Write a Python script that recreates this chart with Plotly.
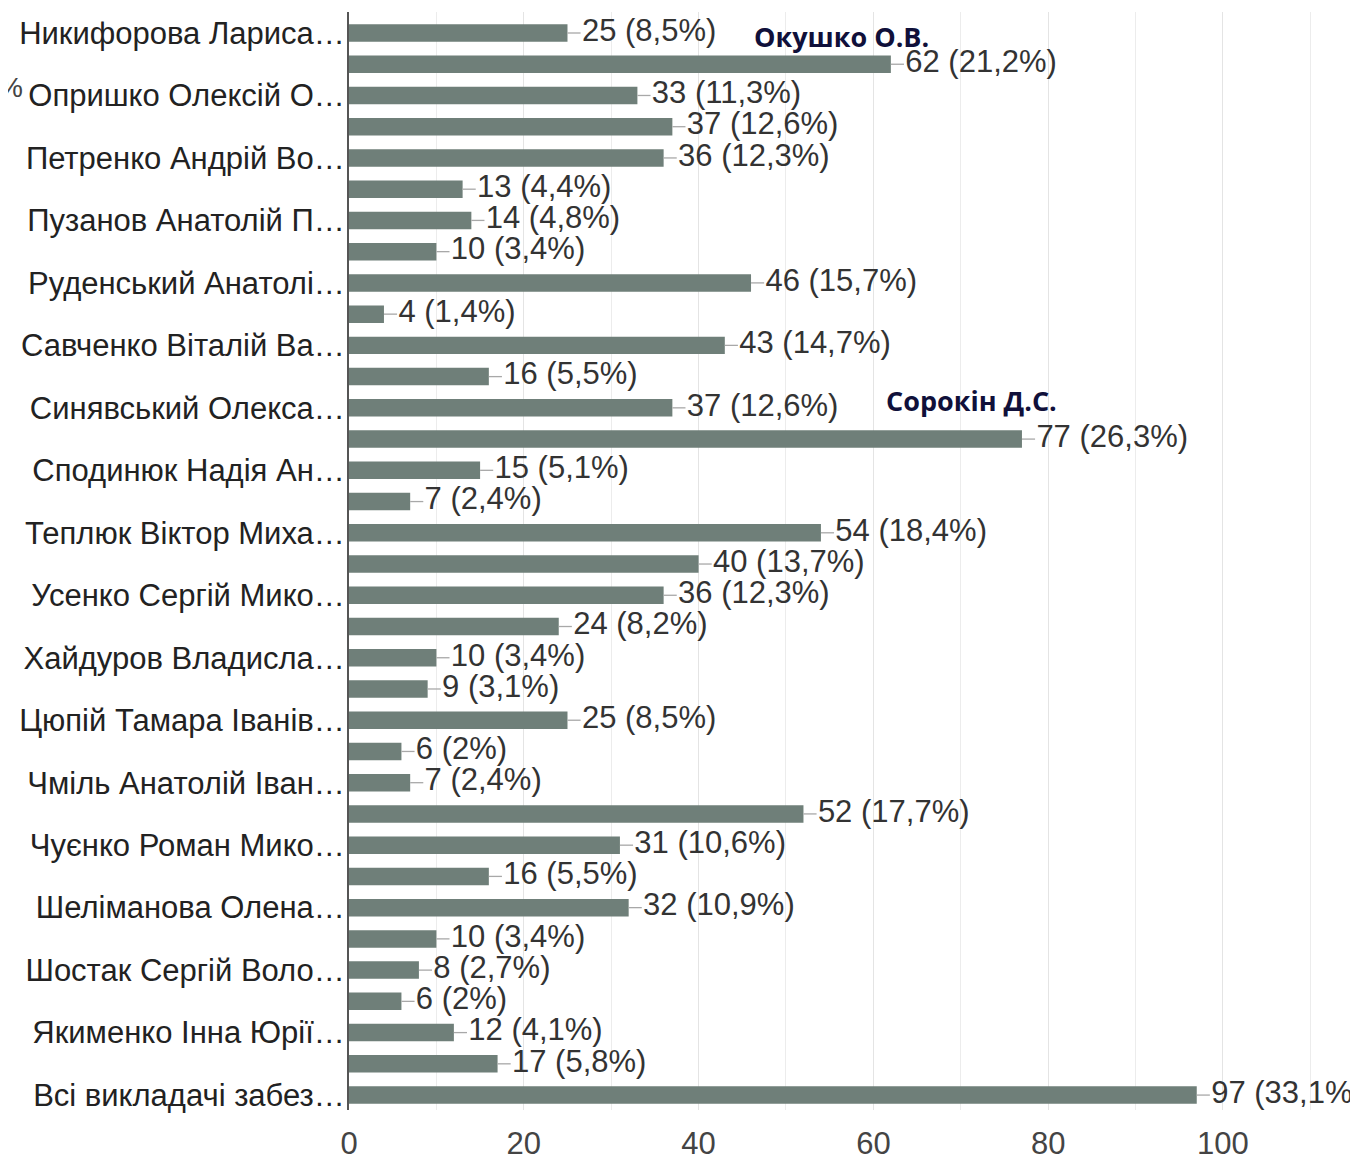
import plotly.graph_objects as go

# Підписи (тільки для кожного другого стовпчика, як на оригіналі)
names = ['', 'Никифорова Лариса…', '', 'Опришко Олексій О…', '', 'Петренко Андрій Во…', '',
         'Пузанов Анатолій П…', '', 'Руденський Анатолі…', '', 'Савченко Віталій Ва…', '',
         'Синявський Олекса…', '', 'Сподинюк Надія Ан…', '', 'Теплюк Віктор Миха…', '',
         'Усенко Сергій Мико…', '', 'Хайдуров Владисла…', '', 'Цюпій Тамара Іванів…', '',
         'Чміль Анатолій Іван…', '', 'Чуєнко Роман Мико…', '', 'Шеліманова Олена…', '',
         'Шостак Сергій Воло…', '', 'Якименко Інна Юрії…', '', 'Всі викладачі забез…']
counts = [28, 25, 62, 33, 37, 36, 13, 14, 10, 46, 4, 43, 16, 37, 77, 15, 7, 54, 40,
          36, 24, 10, 9, 25, 6, 7, 52, 31, 16, 32, 10, 8, 6, 12, 17, 97]
percents = ['9,6%', '8,5%', '21,2%', '11,3%', '12,6%', '12,3%', '4,4%', '4,8%', '3,4%',
            '15,7%', '1,4%', '14,7%', '5,5%', '12,6%', '26,3%', '5,1%', '2,4%', '18,4%',
            '13,7%', '12,3%', '8,2%', '3,4%', '3,1%', '8,5%', '2%', '2,4%', '17,7%',
            '10,6%', '5,5%', '10,9%', '3,4%', '2,7%', '2%', '4,1%', '5,8%', '33,1%']

pos = list(range(len(counts)))
labels = [f'{c} ({p})' for c, p in zip(counts, percents)]
tick_pos = [i for i, n in enumerate(names) if n]
tick_txt = [n for n in names if n]

bar_color = '#6f7f79'
leader = 1.5

fig = go.Figure()

fig.add_trace(go.Bar(
    x=counts, y=pos, orientation='h', width=0.56,
    marker=dict(color=bar_color, line=dict(width=0)),
    error_x=dict(type='data', symmetric=False, array=[leader] * len(counts),
                 arrayminus=[0] * len(counts), width=0, thickness=1.3, color='#a8a8a8'),
    hoverinfo='x+y',
))

fig.add_trace(go.Scatter(
    x=[c + leader + 0.15 for c in counts], y=pos, mode='text',
    text=labels, textposition='middle right',
    textfont=dict(family='Liberation Sans, Arial', size=31, color='#333333'),
    cliponaxis=False, hoverinfo='skip',
))

# Підписи, накладені поверх діаграми
fig.add_annotation(x=46.1, y=1.1, text='<b>Окушко О.В.</b>', showarrow=False,
                   xanchor='left', font=dict(family='Open Sans', size=27, color='#10103a'))
fig.add_annotation(x=61.2, y=12.78, text='<b>Сорокін Д.С.</b>', showarrow=False,
                   xanchor='left', font=dict(family='Open Sans', size=27, color='#10103a'))
fig.add_annotation(x=-0.321, xref='paper', y=2.76, text='%', showarrow=False,
                   xanchor='right', font=dict(family='Liberation Sans, Arial', size=28, color='#444444'))

fig.update_layout(
    width=1350, height=1152,
    margin=dict(l=341, r=0, t=4, b=50),
    paper_bgcolor='white', plot_bgcolor='white',
    showlegend=False,
    xaxis=dict(
        range=[0, 115.45], tickvals=[0, 20, 40, 60, 80, 100],
        showgrid=True, gridcolor='#e4e4e4', gridwidth=1,
        minor=dict(dtick=10, showgrid=True, gridcolor='#ececec', gridwidth=1),
        zeroline=False, showline=False, ticks='',
        automargin=False, ticklabelstandoff=12,
        tickfont=dict(family='Liberation Sans, Arial', size=31, color='#444444'),
    ),
    yaxis=dict(
        range=[35.478, 0.3277], tickvals=tick_pos, ticktext=tick_txt,
        showgrid=False, zeroline=False, automargin=False,
        showline=True, linecolor='#555555', linewidth=2, ticks='',
        ticklabelstandoff=-4,
        tickfont=dict(family='Liberation Sans, Arial', size=31, color='#222222'),
    ),
)

fig.write_html('out.html')
